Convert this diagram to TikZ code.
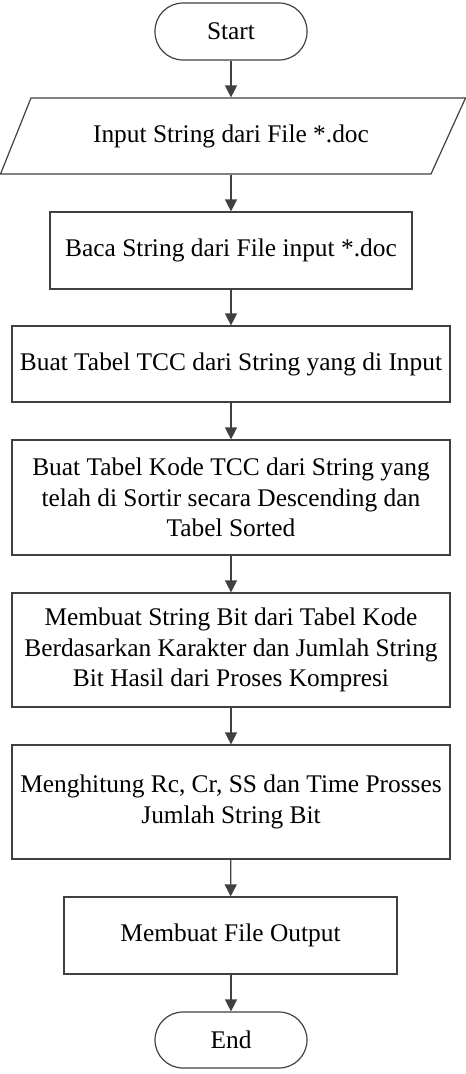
\documentclass[tikz,border=0pt]{standalone}
\usepackage{fontspec}
\setmainfont{Liberation Serif}
\usetikzlibrary{arrows.meta}
\definecolor{linec}{RGB}{64,64,64}
\begin{document}
\begin{tikzpicture}[x=1pt,y=-1pt,
  base/.style={line width=1.2pt, inner sep=0pt, align=center,
    font=\fontsize{25.4}{30.5}\selectfont, text=black},
  proc/.style={base, draw=linec, fill=white, rectangle},
  term/.style={base, draw=linec, fill=white, rectangle, rounded corners=28pt},
  arr/.style={draw=linec, line width=1.2pt, -{Triangle[length=12pt,width=12pt]}}]
\useasboundingbox (0,0) rectangle (466,1074);
\node[term, minimum width=152pt, minimum height=57pt] (start) at (231,31.5) {Start};
\draw[draw=linec, line width=1.2pt] (31,98) -- (465.5,98) -- (431,174) -- (0.5,174) -- cycle;
\node[base, minimum width=380pt, minimum height=76pt] (input) at (231,136) {Input String dari File *.doc};
\node[proc, minimum width=362pt, minimum height=77pt] (baca) at (231,250.5) {Baca String dari File input *.doc};
\node[proc, minimum width=438pt, minimum height=76pt] (tcc) at (231,364) {Buat Tabel TCC dari String yang di Input};
\node[proc, minimum width=438pt, minimum height=115pt] (kode) at (231,497.5) {Buat Tabel Kode TCC dari String yang\\telah di Sortir secara Descending dan\\Tabel Sorted};
\node[proc, minimum width=438pt, minimum height=114pt] (bit) at (231,650) {Membuat String Bit dari Tabel Kode\\Berdasarkan Karakter dan Jumlah String\\Bit Hasil dari Proses Kompresi};
\node[proc, minimum width=438pt, minimum height=114pt] (hitung) at (231,802) {Menghitung Rc, Cr, SS dan Time Prosses\\Jumlah String Bit};
\node[proc, minimum width=333pt, minimum height=77pt] (output) at (230.5,935.5) {Membuat File Output};
\node[term, minimum width=152pt, minimum height=56pt] (end) at (231,1040) {End};
\draw[arr] (start) -- (input);
\draw[arr] (input) -- (baca);
\draw[arr] (baca) -- (tcc);
\draw[arr] (tcc) -- (kode);
\draw[arr] (kode) -- (bit);
\draw[arr] (bit) -- (hitung);
\draw[arr] (hitung) -- (output);
\draw[arr] (output.south -| end.north) -- (end);
\end{tikzpicture}
\end{document}
